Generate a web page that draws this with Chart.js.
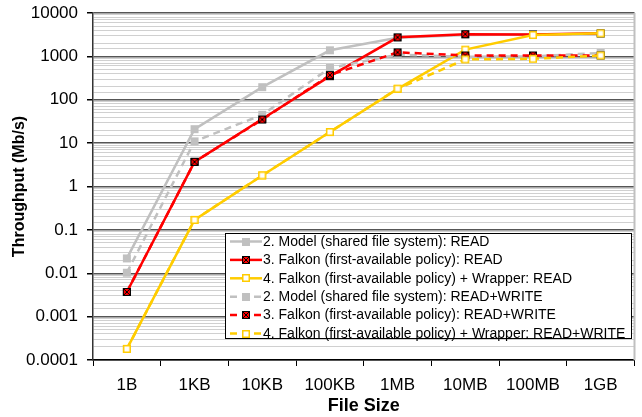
<!DOCTYPE html>
<html>
<head>
<meta charset="utf-8">
<script src="https://cdn.jsdelivr.net/npm/chart.js@4"></script>
<style>
  html, body { margin: 0; padding: 0; background: #fff; }
  #wrap { width: 642px; height: 417px; }
</style>
</head>
<body>
<div id="wrap"><canvas id="chart" width="642" height="417"></canvas></div>
<script>
// categories and throughput values (Mb/s)
const categories = ['1B', '1KB', '10KB', '100KB', '1MB', '10MB', '100MB', '1GB'];
const yTickLabels = ['0.0001', '0.001', '0.01', '0.1', '1', '10', '100', '1000', '10000'];

const modelRead   = [0.022, 21, 195, 1380, 2700, 3100, 3200, 3300];
const falkonRead  = [0.0037, 3.7, 36, 350, 2750, 3250, 3200, 3400];
const wrapperRead = [0.00018, 0.17, 1.8, 18, 178, 1430, 3100, 3400];
const modelRW     = [0.0103, 11, 45, 540, 1100, 980, 1000, 1200];
const falkonRW    = [0.0037, 3.7, 35, 370, 1240, 1050, 1050, 1050];
const wrapperRW   = [0.00018, 0.17, 1.8, 18, 180, 850, 880, 1050];

const seriesLabels = [
  '2. Model (shared file system): READ',
  '3. Falkon (first-available policy): READ',
  '4. Falkon (first-available policy) + Wrapper: READ',
  '2. Model (shared file system): READ+WRITE',
  '3. Falkon (first-available policy): READ+WRITE',
  '4. Falkon (first-available policy) + Wrapper: READ+WRITE',
];

const GRAY = '#c0c0c0', RED = '#ff0000', YELLOW = '#ffcc00';
const FONT = '"Liberation Sans", Arial, sans-serif';

// small canvases used as point markers
function marker(kind) {
  const c = document.createElement('canvas');
  c.width = c.height = 10;
  const g = c.getContext('2d');
  if (kind === 'gray') {
    g.fillStyle = GRAY;
    g.fillRect(1, 1, 8, 8);
  } else if (kind === 'red') {
    g.fillStyle = RED;
    g.fillRect(1, 1, 8, 8);
    g.strokeStyle = '#000';
    g.lineWidth = 1;
    g.strokeRect(1.5, 1.5, 7, 7);
    g.beginPath();
    g.moveTo(2, 2); g.lineTo(8, 8);
    g.moveTo(8, 2); g.lineTo(2, 8);
    g.stroke();
  } else {
    g.fillStyle = '#fff';
    g.fillRect(1, 1, 8, 8);
    g.strokeStyle = YELLOW;
    g.lineWidth = 1.5;
    g.strokeRect(1.75, 1.75, 6.5, 6.5);
  }
  return c;
}

const markers = { gray: marker('gray'), red: marker('red'), yellow: marker('yellow') };

function series(i, data, color, mk, dashed) {
  return {
    label: seriesLabels[i],
    data,
    borderColor: color,
    backgroundColor: color,
    borderWidth: 2.5,
    borderDash: dashed ? [7, 5] : [],
    pointStyle: markers[mk],
    pointRadius: 5,
    tension: 0,
    order: 5 - i,
  };
}

const isMajor = (v) => Math.abs(Math.log10(v) - Math.round(Math.log10(v))) < 1e-6;

// legend drawn inside the plot area
const boxLegend = {
  id: 'boxLegend',
  afterDraw(chart) {
    const ctx = chart.ctx;
    const x0 = 225.5, y0 = 233.5, w = 406, h = 105;
    ctx.save();
    ctx.fillStyle = '#fff';
    ctx.fillRect(x0, y0, w, h);
    ctx.strokeStyle = '#000';
    ctx.lineWidth = 1;
    ctx.strokeRect(x0, y0, w, h);
    ctx.font = '14px ' + FONT;
    ctx.textBaseline = 'middle';
    chart.data.datasets.forEach((ds, i) => {
      const y = 241.5 + i * 18.4;
      ctx.strokeStyle = ds.borderColor;
      ctx.lineWidth = 2.5;
      ctx.setLineDash(ds.borderDash);
      ctx.beginPath();
      ctx.moveTo(230, y);
      ctx.lineTo(262, y);
      ctx.stroke();
      ctx.setLineDash([]);
      ctx.drawImage(ds.pointStyle, 241, Math.round(y) - 5);
      ctx.fillStyle = '#000';
      ctx.fillText(ds.label, 263, y + 0.5);
    });
    ctx.restore();
  },
};

// right border of the plot
const frame = {
  id: 'frame',
  beforeDatasetsDraw(chart) {
    const { ctx, chartArea: a } = chart;
    ctx.save();
    ctx.strokeStyle = '#c0c0c0';
    ctx.lineWidth = 2;
    ctx.beginPath();
    ctx.moveTo(a.right, a.top);
    ctx.lineTo(a.right, a.bottom);
    ctx.stroke();
    ctx.restore();
  },
};

new Chart(document.getElementById('chart'), {
  type: 'line',
  data: {
    labels: categories,
    datasets: [
      series(0, modelRead, GRAY, 'gray', false),
      series(1, falkonRead, RED, 'red', false),
      series(2, wrapperRead, YELLOW, 'yellow', false),
      series(3, modelRW, GRAY, 'gray', true),
      series(4, falkonRW, RED, 'red', true),
      series(5, wrapperRW, YELLOW, 'yellow', true),
    ],
  },
  options: {
    responsive: false,
    animation: false,
    layout: { padding: { top: 13, right: 6, left: 0, bottom: 0 } },
    plugins: {
      legend: { display: false },
      tooltip: { enabled: false },
    },
    scales: {
      x: {
        type: 'category',
        offset: true,
        afterFit: (s) => { s.height = 57; },
        grid: {
          offset: true,
          drawOnChartArea: false,
          drawTicks: true,
          tickLength: 6,
          tickColor: '#000',
        },
        border: { color: '#000', width: 1.5 },
        ticks: {
          color: '#000',
          padding: 9,
          font: { family: FONT, size: 17 },
        },
        title: {
          display: true,
          text: 'File Size',
          color: '#000',
          padding: { top: 6, bottom: 0 },
          font: { family: FONT, size: 18, weight: 'bold' },
        },
      },
      y: {
        type: 'logarithmic',
        min: 0.0001,
        max: 10000,
        afterFit: (s) => { s.width = 93; s.paddingTop = 0; s.paddingBottom = 0; },
        grid: {
          color: (c) => isMajor(c.tick.value) ? '#555' : '#d0d0d0',
          lineWidth: (c) => isMajor(c.tick.value) ? 1.5 : 1,
          tickColor: (c) => isMajor(c.tick.value) ? '#000' : 'rgba(0,0,0,0)',
          tickLength: 6,
        },
        border: { color: '#333', width: 1.5 },
        ticks: {
          autoSkip: false,
          color: '#000',
          padding: 9,
          font: { family: FONT, size: 17 },
          callback: (v) => isMajor(v) ? yTickLabels[Math.round(Math.log10(v)) + 4] : '',
        },
        title: {
          display: true,
          text: 'Throughput (Mb/s)',
          color: '#000',
          padding: { top: 10, bottom: 0 },
          font: { family: FONT, size: 16, weight: 'bold' },
        },
      },
    },
  },
  plugins: [frame, boxLegend],
});
</script>
</body>
</html>
